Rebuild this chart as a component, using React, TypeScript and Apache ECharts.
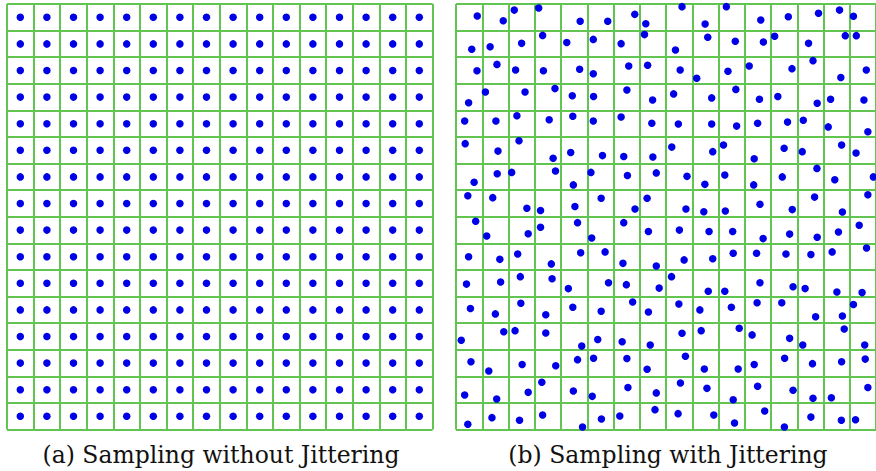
import React, { useEffect, useRef } from "react";
import * as echarts from "echarts";

const GRID_CELLS = 16;
const captions = ["(a) Sampling without Jittering", "(b) Sampling with Jittering"];

// Jittered sample positions (x = column units from left, y = row units from top), read row by row.
const jitterRows: number[][][] = [
  [[0.81,0.45],[1.80,0.63],[2.22,0.23],[3.15,0.15],[4.73,0.65],[5.78,0.65],[6.81,0.39],[7.23,0.74],[8.61,0.10],[9.49,0.75],[10.30,0.10],[11.61,0.60],[12.66,0.48],[13.81,0.35],[14.61,0.23],[15.14,0.46]],
  [[0.60,1.70],[1.30,1.61],[2.50,1.48],[3.30,1.18],[4.22,1.45],[5.23,1.33],[6.29,1.49],[7.18,1.15],[8.36,1.73],[9.59,1.25],[10.64,1.40],[11.71,1.43],[12.14,1.21],[13.43,1.48],[14.83,1.19],[15.25,1.19]],
  [[0.80,2.51],[1.56,2.27],[2.27,2.48],[3.33,2.51],[4.71,2.45],[5.23,2.62],[6.58,2.33],[7.30,2.30],[8.54,2.48],[9.17,2.79],[10.36,2.53],[11.17,2.33],[12.80,2.43],[13.60,2.13],[14.66,2.76],[15.63,2.48]],
  [[0.48,3.71],[1.12,3.31],[2.63,3.31],[3.77,3.18],[4.43,3.45],[5.24,3.48],[6.51,3.23],[7.49,3.61],[8.29,3.38],[9.74,3.53],[10.66,3.21],[11.56,3.58],[12.26,3.48],[13.76,3.73],[14.27,3.58],[15.54,3.61]],
  [[0.33,4.40],[1.52,4.40],[2.32,4.20],[3.55,4.35],[4.45,4.22],[5.23,4.40],[6.29,4.25],[7.46,4.48],[8.47,4.51],[9.74,4.51],[10.69,4.59],[11.49,4.48],[12.63,4.44],[13.23,4.37],[14.18,4.62],[15.69,4.80]],
  [[0.35,5.25],[1.60,5.53],[2.40,5.14],[3.70,5.80],[4.37,5.58],[5.58,5.70],[6.39,5.73],[7.50,5.75],[8.22,5.38],[9.78,5.55],[10.19,5.30],[11.36,5.82],[12.50,5.42],[13.19,5.55],[14.69,5.30],[15.24,5.60]],
  [[0.69,6.70],[1.57,6.38],[2.12,6.33],[3.79,6.28],[4.47,6.80],[5.14,6.33],[6.53,6.45],[7.63,6.35],[8.80,6.48],[9.48,6.78],[10.24,6.43],[11.34,6.80],[12.43,6.50],[13.75,6.18],[14.43,6.61],[15.90,6.50]],
  [[0.45,7.21],[1.40,7.28],[2.70,7.68],[3.22,7.76],[4.53,7.61],[5.53,7.30],[6.82,7.71],[7.28,7.30],[8.76,7.71],[9.44,7.81],[10.26,7.78],[11.58,7.53],[12.81,7.73],[13.66,7.26],[14.72,7.82],[15.69,7.17]],
  [[0.75,8.17],[1.17,8.72],[2.75,8.64],[3.22,8.39],[4.63,8.22],[5.17,8.80],[6.39,8.22],[7.33,8.55],[8.51,8.50],[9.64,8.55],[10.54,8.55],[11.70,8.82],[12.71,8.65],[13.76,8.77],[14.57,8.57],[15.36,8.32]],
  [[0.48,9.50],[1.67,9.60],[2.35,9.40],[3.63,9.77],[4.75,9.35],[5.68,9.32],[6.36,9.75],[7.63,9.85],[8.69,9.62],[9.78,9.58],[10.56,9.37],[11.45,9.37],[12.57,9.40],[13.52,9.42],[14.33,9.32],[15.64,9.17]],
  [[0.40,10.53],[1.70,10.45],[2.45,10.25],[3.66,10.33],[4.28,10.70],[5.81,10.48],[6.49,10.55],[7.74,10.68],[8.21,10.25],[9.61,10.80],[10.24,10.80],[11.58,10.48],[12.84,10.63],[13.30,10.70],[14.51,10.83],[15.47,10.85]],
  [[0.55,11.45],[1.50,11.65],[2.47,11.25],[3.42,11.68],[4.45,11.40],[5.53,11.55],[6.73,11.20],[7.33,11.58],[8.49,11.28],[9.29,11.50],[10.49,11.40],[11.47,11.23],[12.41,11.23],[13.70,11.76],[14.72,11.73],[15.14,11.30]],
  [[0.20,12.64],[1.82,12.32],[2.25,12.28],[3.42,12.37],[4.79,12.86],[5.40,12.61],[6.33,12.70],[7.40,12.82],[8.61,12.38],[9.34,12.28],[10.79,12.19],[11.28,12.44],[12.71,12.57],[13.21,12.82],[14.79,12.22],[15.57,12.82]],
  [[0.57,13.45],[1.25,13.80],[2.52,13.55],[3.80,13.60],[4.63,13.37],[5.24,13.32],[6.51,13.33],[7.28,13.73],[8.74,13.24],[9.46,13.72],[10.75,13.72],[11.36,13.55],[12.52,13.32],[13.58,13.52],[14.69,13.45],[15.59,13.35]],
  [[0.33,14.70],[1.55,14.85],[2.75,14.60],[3.27,14.22],[4.47,14.55],[5.19,14.75],[6.55,14.42],[7.63,14.62],[8.55,14.25],[9.56,14.45],[10.56,14.88],[11.49,14.37],[12.84,14.52],[13.60,14.82],[14.30,14.80],[15.69,14.42]],
  [[0.45,15.80],[1.37,15.55],[2.42,15.65],[3.30,15.45],[4.82,15.90],[5.54,15.60],[6.24,15.49],[7.58,15.25],[8.46,15.40],[9.82,15.45],[10.61,15.75],[11.76,15.30],[12.51,15.90],[13.52,15.53],[14.68,15.65],[15.22,15.63]],
];

const cellIndices: number[] = Array.from({ length: GRID_CELLS }, (_, i) => i);

const GREEN = "#62c552";
const BLUE = "#0000e6";

export default function App() {
  const ref = useRef<HTMLDivElement>(null);
  useEffect(() => {
    if (!ref.current) return;
    const chart = echarts.init(ref.current, undefined, { renderer: "svg" });
    const regular: number[][] = [];
    cellIndices.forEach((r) => cellIndices.forEach((c) => regular.push([c + 0.5, r + 0.5])));
    const jittered: number[][] = [];
    jitterRows.forEach((row) => row.forEach((p) => jittered.push(p)));

    const axisCommon = {
      type: "value" as const,
      min: 0,
      max: GRID_CELLS,
      interval: 1,
      axisLine: { show: false },
      axisTick: { show: false },
      axisLabel: { show: false },
      splitLine: { show: true, showMinLine: true, showMaxLine: true, lineStyle: { color: GREEN, width: 2 } },
    };

    const captionText = { fontFamily: "DejaVu Serif", fontSize: 23.5, fontWeight: "normal" as const, color: "#111" };

    chart.setOption({
      animation: false,
      backgroundColor: "#ffffff",
      grid: [
        { left: 7, top: 4, width: 425.6, height: 425.6 },
        { left: 456, top: 4, width: 427.2, height: 425.6 },
      ],
      xAxis: [
        { ...axisCommon, gridIndex: 0 },
        { ...axisCommon, gridIndex: 1 },
      ],
      yAxis: [
        { ...axisCommon, gridIndex: 0, inverse: true },
        { ...axisCommon, gridIndex: 1, inverse: true },
      ],
      series: [
        {
          type: "scatter",
          xAxisIndex: 0,
          yAxisIndex: 0,
          data: regular,
          symbol: "circle",
          symbolSize: 7.5,
          itemStyle: { color: BLUE, opacity: 1 },
          silent: true,
        },
        {
          type: "scatter",
          xAxisIndex: 1,
          yAxisIndex: 1,
          data: jittered,
          symbol: "circle",
          symbolSize: 7.5,
          itemStyle: { color: BLUE, opacity: 1 },
          silent: true,
          clip: false,
        },
      ],
      title: [
        { text: captions[0], left: 221, top: 443, textAlign: "center", padding: 0, textStyle: captionText },
        { text: captions[1], left: 668, top: 443, textAlign: "center", padding: 0, textStyle: captionText },
      ],
    });
    return () => chart.dispose();
  }, []);
  return (
    <div
      ref={ref}
      style={{ position: "absolute", left: 0, top: 0, width: 876, height: 471 }}
    />
  );
}
